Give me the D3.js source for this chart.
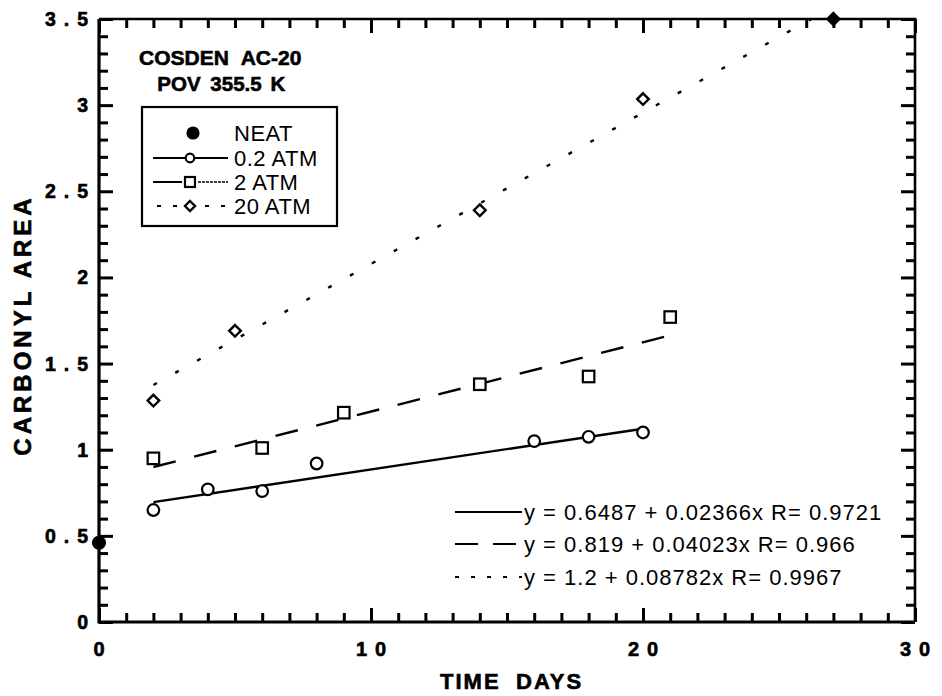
<!DOCTYPE html>
<html>
<head>
<meta charset="utf-8">
<script src="https://cdn.jsdelivr.net/npm/d3@7"></script>
<style>
  html, body { margin: 0; padding: 0; background: #fff; }
  svg { display: block; }
  text { font-family: "Liberation Sans", Arial, Helvetica, sans-serif; fill: #000; }
  .heavy { font-weight: bold; stroke: #000; stroke-width: 0.6px; }
</style>
</head>
<body>
<svg id="chart" width="942" height="696"></svg>
<script>
// ---------------- DATA ----------------
const neatDays = [0];
const neatVals = [0.46];

const atm02Days = [2, 4, 6, 8, 16, 18, 20];
const atm02Vals = [0.65, 0.77, 0.76, 0.92, 1.05, 1.075, 1.10];

const atm2Days = [2, 6, 9, 14, 18, 21];
const atm2Vals = [0.95, 1.01, 1.215, 1.38, 1.425, 1.77];

const atm20Days = [2, 5, 14, 20];
const atm20Vals = [1.285, 1.69, 2.39, 3.035];
const atm20FilledDays = [27];
const atm20FilledVals = [3.5];

// regression fits
const fitNames = ["0.2 ATM", "2 ATM", "20 ATM"];
const fitIntercepts = [0.6487, 0.819, 1.2];
const fitSlopes = [0.02366, 0.04023, 0.08782];
const fitStart = [2, 2, 2];
const fitEnd = [20, 21, 27];
const fitLabels = [
  "y = 0.6487 + 0.02366x R= 0.9721",
  "y = 0.819 + 0.04023x R= 0.966",
  "y = 1.2 + 0.08782x R= 0.9967"
];

const xTickLabels = ["0", "10", "20", "30"];
const yTickLabels = ["0", "0.5", "1", "1.5", "2", "2.5", "3", "3.5"];
const legendLabels = ["NEAT", "0.2 ATM", "2 ATM", "20 ATM"];
const titleLine1 = ["COSDEN", "AC-20"];
const titleLine2 = ["POV", "355.5", "K"];
const xTitleWords = ["TIME", "DAYS"];
const yTitle = "CARBONYL AREA";

// ---------------- LAYOUT ----------------
const svg = d3.select("#chart");
const L = 99, R = 915, T = 19, B = 622;
const x = d3.scaleLinear().domain([0, 30]).range([L, R]);
const y = d3.scaleLinear().domain([0, 3.5]).range([B, T]);
const fitDashes = [null, "23 19", "4 21"];

svg.append("defs").append("clipPath").attr("id", "plotclip")
  .append("rect").attr("x", L).attr("y", T).attr("width", R - L).attr("height", B - T);

// ---------------- AXES: inward ticks on all four sides ----------------
const xMinor = x.ticks(30).filter(d => d % 10 !== 0);
const xMajor = [0, 10, 20, 30];
const yMinor = y.ticks(35).filter(d => Math.round(d * 10) % 5 !== 0);
const yMajor = [0, 0.5, 1, 1.5, 2, 2.5, 3, 3.5];

function styleAxis(g) {
  g.select(".domain").remove();
  g.selectAll(".tick line").attr("stroke", "black").attr("stroke-width", 3);
  g.selectAll(".tick text").remove();
}
[
  [d3.axisBottom, x, `translate(0,${B})`, xMinor, xMajor],
  [d3.axisTop, x, `translate(0,${T})`, xMinor, xMajor],
  [d3.axisLeft, y, `translate(${L},0)`, yMinor, yMajor],
  [d3.axisRight, y, `translate(${R},0)`, yMinor, yMajor]
].forEach(([mkAxis, sc, tr, minor, major]) => {
  svg.append("g").attr("transform", tr)
    .call(mkAxis(sc).tickValues(minor).tickSize(-9).tickFormat(() => "")).call(styleAxis);
  svg.append("g").attr("transform", tr)
    .call(mkAxis(sc).tickValues(major).tickSize(-14).tickFormat(() => "")).call(styleAxis);
});
// frame
svg.append("path").attr("d", `M${L},${T}H${R}V${B}`)
  .attr("fill", "none").attr("stroke", "black").attr("stroke-width", 2.6);
svg.append("path").attr("d", `M${L},${T}V${B}H${R}`)
  .attr("fill", "none").attr("stroke", "black").attr("stroke-width", 3.2);

// x tick labels
xTickLabels.forEach(t => {
  const v = +t;
  const ls = 8;
  svg.append("text").attr("class", "heavy")
    .attr("x", x(v) + (t.length > 1 ? ls / 2 : 0)).attr("y", 656)
    .attr("text-anchor", "middle").attr("font-size", 20)
    .style("letter-spacing", t.length > 1 ? ls + "px" : "0px")
    .text(t);
});
// y tick labels
yTickLabels.forEach(t => {
  const v = +t;
  const ls = 8;
  svg.append("text").attr("class", "heavy")
    .attr("x", 88 + (t.length > 1 ? ls : 0)).attr("y", y(v) + 7)
    .attr("text-anchor", "end").attr("font-size", 19.5)
    .style("letter-spacing", t.length > 1 ? ls + "px" : "0px")
    .text(t);
});
// axis titles
const xTitleX = [440, 516];
xTitleWords.forEach((t, i) => {
  svg.append("text").attr("class", "heavy")
    .attr("x", xTitleX[i]).attr("y", 689)
    .attr("font-size", 22).style("letter-spacing", "2px").text(t);
});
svg.append("text").attr("class", "heavy")
  .attr("transform", "translate(31,325) rotate(-90)")
  .attr("text-anchor", "middle").attr("font-size", 24).style("letter-spacing", "4px")
  .text(yTitle);

// ---------------- FIT LINES ----------------
const plot = svg.append("g").attr("clip-path", "url(#plotclip)");
fitNames.forEach((n, i) => {
  const pts = [fitStart[i], fitEnd[i]].map(d => [d, fitIntercepts[i] + fitSlopes[i] * d]);
  plot.append("path")
    .attr("d", d3.line().x(d => x(d[0])).y(d => y(d[1]))(pts))
    .attr("fill", "none").attr("stroke", "black").attr("stroke-width", 2.4)
    .attr("stroke-dasharray", fitDashes[i]);
});

// ---------------- MARKERS ----------------
const mk = svg.append("g");
function circleM(g, cx, cy, r, filled) {
  g.append("circle").attr("cx", cx).attr("cy", cy).attr("r", r)
    .attr("fill", filled ? "black" : "white").attr("stroke", "black").attr("stroke-width", 2.2);
}
function squareM(g, cx, cy, s) {
  g.append("rect").attr("x", cx - s / 2).attr("y", cy - s / 2).attr("width", s).attr("height", s)
    .attr("fill", "white").attr("stroke", "black").attr("stroke-width", 2.2);
}
function diamondM(g, cx, cy, s, filled) {
  g.append("path").attr("d", `M${cx},${cy - s}L${cx + s},${cy}L${cx},${cy + s}L${cx - s},${cy}Z`)
    .attr("fill", filled ? "black" : "white").attr("stroke", "black").attr("stroke-width", 2.4);
}
atm02Days.forEach((d, i) => circleM(mk, x(d), y(atm02Vals[i]), 5.8, false));
atm2Days.forEach((d, i) => squareM(mk, x(d), y(atm2Vals[i]), 11.5));
atm20Days.forEach((d, i) => diamondM(mk, x(d), y(atm20Vals[i]), 5.8, false));
atm20FilledDays.forEach((d, i) => diamondM(mk, x(d), y(atm20FilledVals[i]), 6, true));
neatDays.forEach((d, i) => circleM(mk, x(d), y(neatVals[i]), 6, true));

// ---------------- TITLE (words placed with wide gaps) ----------------
const t1X = [184, 271];
titleLine1.forEach((t, i) => {
  svg.append("text").attr("class", "heavy").attr("x", t1X[i]).attr("y", 65)
    .attr("text-anchor", "middle").attr("font-size", 21).text(t);
});
const t2X = [179, 236, 278];
titleLine2.forEach((t, i) => {
  svg.append("text").attr("class", "heavy").attr("x", t2X[i]).attr("y", 91)
    .attr("text-anchor", "middle").attr("font-size", 20.5).text(t);
});

// ---------------- LEGEND (series) ----------------
const lg = svg.append("g");
lg.append("rect").attr("x", 142).attr("y", 107).attr("width", 195).attr("height", 119)
  .attr("fill", "white").attr("stroke", "black").attr("stroke-width", 2.2);
const legY = [133, 158, 182, 206];
legendLabels.forEach((t, i) => {
  const yy = legY[i];
  if (i === 1) {
    lg.append("line").attr("x1", 153).attr("x2", 228).attr("y1", yy).attr("y2", yy)
      .attr("stroke", "black").attr("stroke-width", 2);
  } else if (i === 2) {
    lg.append("line").attr("x1", 153).attr("x2", 182).attr("y1", yy).attr("y2", yy)
      .attr("stroke", "black").attr("stroke-width", 2);
    lg.append("line").attr("x1", 198).attr("x2", 228).attr("y1", yy).attr("y2", yy)
      .attr("stroke", "black").attr("stroke-width", 1.4).attr("stroke-dasharray", "3 1");
  } else if (i === 3) {
    lg.append("line").attr("x1", 157).attr("x2", 228).attr("y1", yy).attr("y2", yy)
      .attr("stroke", "black").attr("stroke-width", 2).attr("stroke-dasharray", "4 12");
  }
  if (i === 0) circleM(lg, 193, yy, 5.5, true);
  if (i === 1) circleM(lg, 190, yy, 4.3, false);
  if (i === 2) squareM(lg, 190, yy, 10);
  if (i === 3) diamondM(lg, 190, yy, 5, false);
  lg.append("text").attr("x", 234).attr("y", yy + 8).attr("font-size", 22)
    .style("letter-spacing", "0.5px").text(t);
});

// ---------------- LEGEND (fits) ----------------
const fitLegY = [512, 544, 577];
const fitLegDash = [null, "23 15", "4 12"];
fitLabels.forEach((t, i) => {
  const yy = fitLegY[i];
  svg.append("line").attr("x1", 455).attr("x2", 522).attr("y1", yy).attr("y2", yy)
    .attr("stroke", "black").attr("stroke-width", 2).attr("stroke-dasharray", fitLegDash[i]);
  svg.append("text").attr("x", 524).attr("y", yy + 8).attr("font-size", 22)
    .style("letter-spacing", "1px").text(t);
});
</script>
</body>
</html>
